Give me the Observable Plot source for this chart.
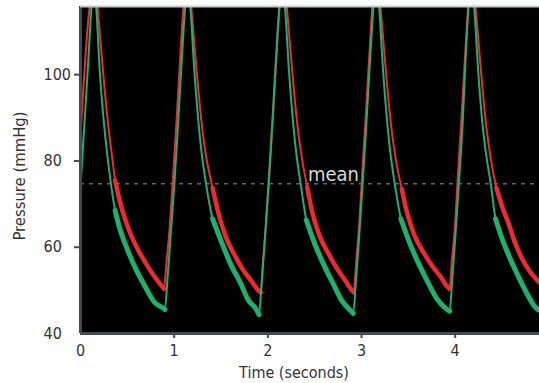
<!DOCTYPE html>
<html><head><meta charset="utf-8">
<script src="https://cdn.jsdelivr.net/npm/d3@7"></script>
<script src="https://cdn.jsdelivr.net/npm/@observablehq/plot@0.6"></script>
<style>
html,body{margin:0;padding:0;background:#fff;}
#chart svg{display:block;}
</style></head><body><div id="chart"></div>
<script>
// Time (s) and pressure (mmHg) samples, one row per beat
const greenTime = [
  0.00,0.04,0.08,0.115,0.14,0.17,0.205,0.245,0.285,0.325,0.37,0.41,0.50,0.60,0.70,0.79,0.86,0.90,
  0.93,0.96,1.00,1.04,1.08,1.115,1.145,1.175,1.215,1.255,1.295,1.34,1.41,1.50,1.60,1.71,1.79,1.87,1.905,
  1.935,1.965,2.005,2.045,2.085,2.12,2.155,2.185,2.225,2.265,2.305,2.35,2.41,2.50,2.60,2.71,2.79,2.87,2.91,
  2.94,2.97,3.01,3.05,3.09,3.125,3.16,3.19,3.23,3.27,3.31,3.355,3.42,3.51,3.61,3.72,3.80,3.89,3.94,
  3.97,4.00,4.04,4.08,4.11,4.14,4.175,4.205,4.245,4.285,4.33,4.38,4.43,4.50,4.57,4.64,4.71,4.79,4.85,4.90];
const greenPressure = [
  74,88,102,115,121,115,101,90,81.5,74.7,68.5,65,59.5,54.5,50.5,47.2,46.2,45.6,
  53,62,74,88,103,115,121,115,101,90,81.5,74.7,66.6,61.5,56.2,51.6,47.8,45.8,44.4,
  52,61,74,88,103,115,121,115,101,90,81.5,74.7,66.3,60.8,55.8,51,47.6,45.6,44.7,
  52,61,74,88,103,115,121,115,101,90,81.5,74.7,66.6,61.2,56.2,51.4,48.2,46,45.2,
  53,62,75,89,103,115,121,115,101,90,81.5,74.7,66.6,62,58.2,54.8,51.6,48.3,46.2,45.4];

const redTime = [
  0.00,0.04,0.08,0.105,0.14,0.18,0.22,0.26,0.30,0.34,0.37,0.41,0.50,0.60,0.70,0.78,0.85,0.89,
  0.92,0.95,0.99,1.03,1.07,1.10,1.14,1.18,1.22,1.26,1.30,1.345,1.385,1.41,1.465,1.55,1.66,1.74,1.82,1.90,1.925,
  1.95,1.98,2.02,2.06,2.10,2.13,2.16,2.20,2.24,2.28,2.32,2.365,2.42,2.47,2.55,2.66,2.74,2.82,2.89,2.915,
  2.945,2.975,3.01,3.05,3.09,3.12,3.16,3.20,3.24,3.28,3.32,3.365,3.43,3.48,3.56,3.67,3.76,3.85,3.91,3.94,
  3.965,3.995,4.03,4.07,4.11,4.14,4.175,4.215,4.255,4.295,4.335,4.38,4.44,4.50,4.57,4.64,4.71,4.80,4.90];
const redPressure = [
  86,100,112,117,122,116,106,96,87.5,80.5,75.5,71.5,65,60,56.2,53.5,51.5,50.4,
  57,64,77,91,106,116,122,116,106,96,87.5,80.5,76.2,73.8,68.5,62.5,57.6,54.6,52.3,50,49.5,
  57,65,78,92,107,117,122,116,106,96,87.5,80.5,74,68.5,62.8,58,55,52.5,50.2,49.6,
  57,65,78,92,107,117,122,116,106,96,87.5,80.5,73.5,68.5,63,58.5,55.5,53,51,50.4,
  57,64,77,91,106,116,122,116,106,96,87.5,80.5,73.8,69.5,65.5,61,57.5,54.3,51.8];

// Diastolic (run-off) phase of each beat: start and end times (s)
const diastoleStart = [0.37, 1.41, 2.41, 3.42, 4.43];
const diastoleEnd   = [0.90, 1.925, 2.915, 3.94, 4.90];

const meanPressure = 74.7;
const meanLabelTime = 2.7;
const xTicks = [0, 1, 2, 3, 4];
const yTicks = [40, 60, 80, 100];
const xMax = 4.9;
const yMin = 40, yMax = 115.8;

const RED = "#ec2b2f", GREEN = "#1fb06e", AXIS = "#434b50", TEXT = "#333";
const FONT = '"Liberation Sans Narrow", "Arial Narrow", "DejaVu Sans Condensed", sans-serif';

function rows(times, values) {
  return times.map((t, i) => ({
    t, p: values[i],
    beat: diastoleStart.findIndex((s, k) => t >= s && t <= diastoleEnd[k])
  }));
}
const red = rows(redTime, redPressure);
const green = rows(greenTime, greenPressure);
const CURVE = "monotone-x";

const chart = Plot.plot({
  width: 539, height: 383,
  marginLeft: 80, marginRight: 0, marginTop: 6, marginBottom: 50,
  style: {fontFamily: FONT, background: "white", overflow: "visible"},
  x: {domain: [0, xMax], axis: null, label: null},
  y: {domain: [yMin, yMax], axis: null, label: null},
  marks: [
    Plot.frame({fill: "black", stroke: "none"}),
    Plot.ruleY([meanPressure], {stroke: "#5d676e", strokeWidth: 1.5, strokeDasharray: "4,5"}),
    Plot.text(["mean"], {x: [meanLabelTime], y: [meanPressure], dy: -3, lineAnchor: "bottom", fill: "#d9d9d9", fontSize: 20}),
    Plot.line(red, {x: "t", y: "p", stroke: RED, strokeWidth: 2, curve: CURVE, clip: true}),
    Plot.line(red.filter(d => d.beat >= 0), {x: "t", y: "p", z: "beat", stroke: RED, strokeWidth: 4.5, curve: CURVE, clip: true}),
    Plot.line(green, {x: "t", y: "p", stroke: GREEN, strokeWidth: 2, curve: CURVE, clip: true}),
    Plot.line(green.filter(d => d.beat >= 0), {x: "t", y: "p", z: "beat", stroke: GREEN, strokeWidth: 5, curve: CURVE, clip: true}),
    Plot.ruleX([0], {stroke: AXIS, strokeWidth: 3}),
    Plot.ruleY([yMin], {stroke: AXIS, strokeWidth: 3}),
    Plot.ruleY([yMax], {stroke: "#c5cacd", strokeWidth: 2}),
    Plot.axisY({ticks: yTicks.filter(v => v > yMin), tickSize: 6, tickFormat: () => "", stroke: AXIS, strokeWidth: 2, label: null}),
    Plot.axisY({ticks: yTicks, tickSize: 0, tickPadding: 37, textAnchor: "start", tickFormat: d => String(d), fill: TEXT, fontSize: 16, label: null}),
    Plot.axisX({ticks: xTicks.filter(v => v > 0), tickSize: 5, tickFormat: () => "", stroke: AXIS, strokeWidth: 2, label: null}),
    Plot.axisX({ticks: xTicks, tickSize: 0, tickPadding: 11, tickFormat: d => String(d), fill: TEXT, fontSize: 16, label: null}),
    Plot.text(["Pressure (mmHg)"], {frameAnchor: "left", dx: -61, dy: 6, rotate: -90, textAnchor: "middle", lineAnchor: "middle", fill: TEXT, fontSize: 16.5}),
    Plot.text(["Time (seconds)"], {frameAnchor: "bottom", dx: -16, dy: 44, textAnchor: "middle", lineAnchor: "bottom", fill: TEXT, fontSize: 16})
  ]
});
document.getElementById("chart").appendChild(chart);
</script>
</body></html>
